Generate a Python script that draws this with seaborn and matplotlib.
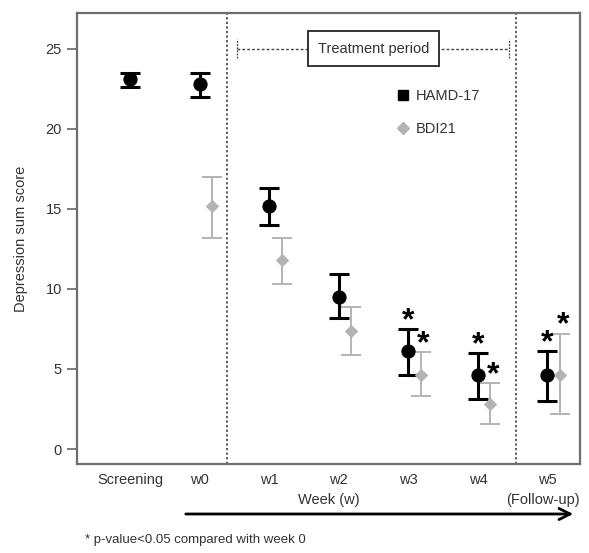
"""Depression sum scores by visit (HAMD-17 vs BDI21)."""

import numpy as np
import pandas as pd
import matplotlib
matplotlib.use('Agg')
import matplotlib.pyplot as plt
from matplotlib.lines import Line2D
from matplotlib.patches import FancyArrowPatch
import seaborn as sns

# Data
visits = ['Screening', 'w0', 'w1', 'w2', 'w3', 'w4', 'w5']
hamd_mean = [23.1, 22.8, 15.2, 9.5, 6.1, 4.6, 4.6]
hamd_low = [22.6, 22.0, 14.0, 8.2, 4.6, 3.1, 3.0]
hamd_high = [23.5, 23.5, 16.3, 10.9, 7.5, 6.0, 6.1]
bdi_mean = [np.nan, 15.2, 11.8, 7.4, 4.6, 2.8, 4.6]
bdi_low = [np.nan, 13.2, 10.3, 5.9, 3.3, 1.55, 2.2]
bdi_high = [np.nan, 17.0, 13.2, 8.85, 6.05, 4.1, 7.2]
hamd_sig = [False, False, False, False, True, True, True]
bdi_sig = [False, False, False, False, True, True, True]

HAMD_COL = 'black'
BDI_COL = '#b3b3b3'
TXT_COL = '#333333'
BDI_SHIFT = 0.18
FS = 10.5

sns.set_style('white')
plt.rcParams['font.family'] = ['Liberation Sans', 'DejaVu Sans']

df = pd.DataFrame({'pos': np.arange(len(visits)), 'visit': visits,
                   'hamd': hamd_mean, 'hamd_lo': hamd_low, 'hamd_hi': hamd_high,
                   'bdi': bdi_mean, 'bdi_lo': bdi_low, 'bdi_hi': bdi_high})
df['bdi_pos'] = df['pos'] + BDI_SHIFT

fig = plt.figure(figsize=(5.89, 5.53), dpi=100)
ax = fig.add_axes([0.131, 0.161, 0.854, 0.815])

# Error bars
ax.errorbar(df['bdi_pos'], df['bdi'],
            yerr=[df['bdi'] - df['bdi_lo'], df['bdi_hi'] - df['bdi']],
            fmt='none', ecolor=BDI_COL, elinewidth=1.4, capsize=7, capthick=1.4, zorder=2)
ax.errorbar(df['pos'], df['hamd'],
            yerr=[df['hamd'] - df['hamd_lo'], df['hamd_hi'] - df['hamd']],
            fmt='none', ecolor=HAMD_COL, elinewidth=2.2, capsize=7.5, capthick=2.2, zorder=3)

# Means
sns.scatterplot(data=df, x='bdi_pos', y='bdi', marker='D', s=40, color=BDI_COL,
                edgecolor=BDI_COL, ax=ax, zorder=4, legend=False)
sns.scatterplot(data=df, x='pos', y='hamd', marker='o', s=90, color=HAMD_COL,
                edgecolor=HAMD_COL, ax=ax, zorder=5, legend=False)

# Significance stars
for i in range(len(visits)):
    if hamd_sig[i]:
        ax.text(df['pos'][i], df['hamd_hi'][i], '*', ha='center', va='baseline',
                fontsize=23, fontweight='bold', color='black')
    if bdi_sig[i]:
        ax.text(df['bdi_pos'][i] + 0.04, df['bdi_hi'][i], '*', ha='center',
                va='baseline', fontsize=23, fontweight='bold', color='black')

# Period separators
ax.axvline(1.4, color='#333333', linestyle=(0, (1.5, 1.5)), linewidth=1.1)
ax.axvline(5.55, color='#333333', linestyle=(0, (1.5, 1.5)), linewidth=1.1)

# Treatment period bracket
ax.plot([1.54, 5.44], [25, 25], color='#444444', linestyle=(0, (2, 1.5)), linewidth=1)
ax.plot([1.54, 1.54], [24.4, 25.6], color='#444444', linestyle=(0, (1.5, 1)), linewidth=0.9)
ax.plot([5.44, 5.44], [24.4, 25.6], color='#444444', linestyle=(0, (1.5, 1)), linewidth=0.9)
ax.text(3.5, 25, 'Treatment period', ha='center', va='center', fontsize=FS,
        color=TXT_COL, zorder=6,
        bbox=dict(boxstyle='square,pad=0.7', facecolor='white', edgecolor='#333333',
                  linewidth=1.4))

# Legend
handles = [Line2D([], [], marker='s', color=HAMD_COL, linestyle='none', markersize=6.5),
           Line2D([], [], marker='D', color=BDI_COL, linestyle='none', markersize=6)]
ax.legend(handles, ['HAMD-17', 'BDI21'], loc='upper left', bbox_to_anchor=(0.607, 0.86),
          frameon=False, fontsize=FS, handletextpad=0.4, labelspacing=1.25,
          handlelength=1.0, labelcolor=TXT_COL)

# Axes formatting
ax.set_xlim(-0.76, 6.47)
ax.set_ylim(-0.93, 27.2)
ax.set_xticks(df['pos'])
ax.set_xticklabels(visits, fontsize=FS, color=TXT_COL)
ax.set_yticks([0, 5, 10, 15, 20, 25])
ax.tick_params(axis='y', left=True, length=7, width=1.2, color='#666666',
               labelsize=FS, labelcolor=TXT_COL, pad=4)
ax.tick_params(axis='x', bottom=False, pad=3)
ax.set_xlabel('Week (w)', fontsize=FS, color=TXT_COL, labelpad=4)
ax.set_ylabel('Depression sum score', fontsize=FS, color=TXT_COL)
ax.yaxis.set_label_coords(-0.098, 0.5)
for sp in ax.spines.values():
    sp.set_color('#6e6e6e')
    sp.set_linewidth(1.6)

ax.text(5.93, -0.08, '(Follow-up)', transform=ax.get_xaxis_transform(), ha='center',
        va='center', fontsize=FS, color=TXT_COL)

# Time arrow and footnote
fig.add_artist(FancyArrowPatch(
    (183 / 589, 1 - 514 / 553), (576 / 589, 1 - 514 / 553), transform=fig.transFigure,
    arrowstyle='->', mutation_scale=20, color='black', linewidth=2))
fig.text(85 / 589, 1 - 540 / 553, '* p-value<0.05 compared with week 0', fontsize=9.5,
         color=TXT_COL, va='center')

fig.savefig('out.png', dpi=100)
